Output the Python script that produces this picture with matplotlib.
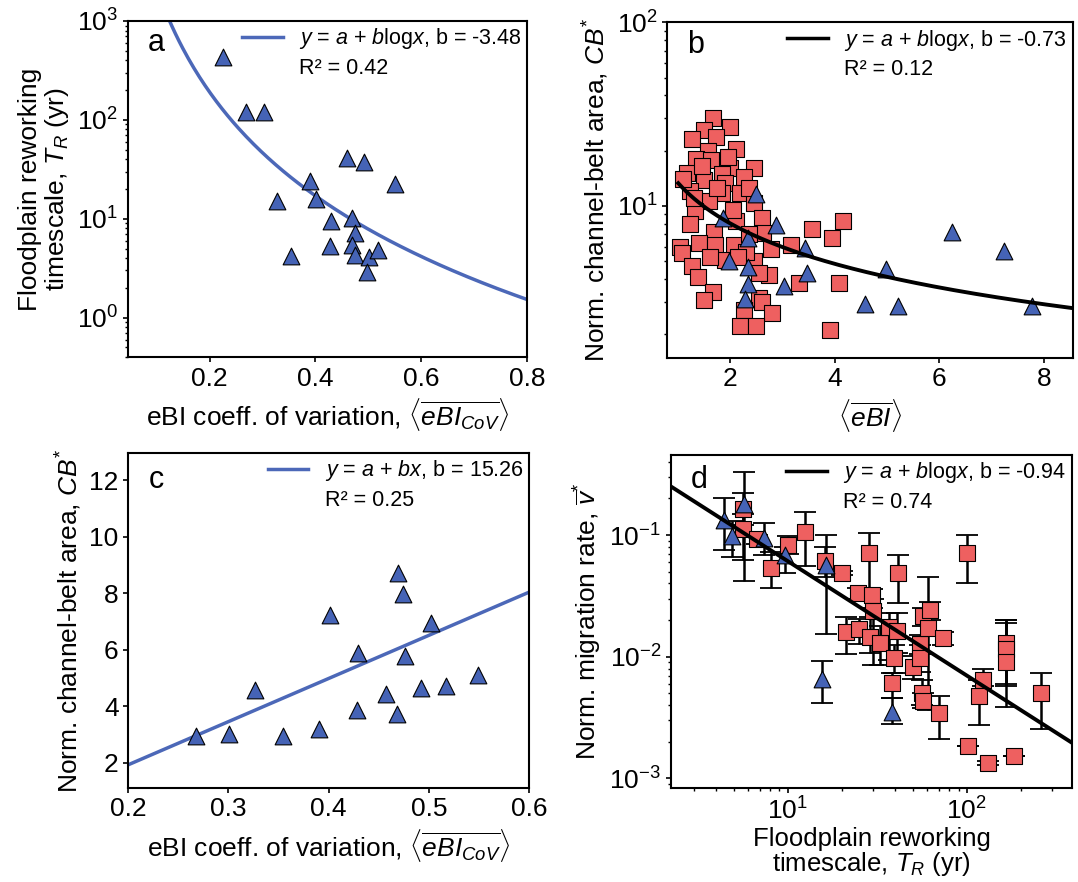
import numpy as np
import matplotlib
matplotlib.use('Agg')
import matplotlib.pyplot as plt
from matplotlib.lines import Line2D

plt.rcParams['font.family'] = ['Liberation Sans', 'DejaVu Sans']
plt.rcParams['mathtext.fontset'] = 'custom'
plt.rcParams['mathtext.rm'] = 'Liberation Sans'
plt.rcParams['mathtext.it'] = 'Liberation Sans:italic'
plt.rcParams['mathtext.bf'] = 'Liberation Sans:bold'
plt.rcParams['axes.linewidth'] = 1.5

BLUE = '#4563B6'
LINE_BLUE = '#4C68B8'
RED = '#EE6060'

# ---- panel a: eBI CoV vs reworking timescale (triangles)
a_x = [0.225, 0.269, 0.302, 0.459, 0.492, 0.550, 0.390, 0.327, 0.402, 0.429,
       0.469, 0.475, 0.428, 0.469, 0.475, 0.354, 0.501, 0.518, 0.497]
a_y = [436, 121, 119, 41, 37.4, 22.4, 24.2, 15.2, 15.8, 9.4,
       10.2, 7.2, 5.3, 5.4, 4.3, 4.2, 4.1, 4.8, 2.9]
a_fit = (0.704, -3.48)   # y = A * x**b
a_r2 = 0.42

# ---- panel b: mean eBI vs channel-belt area
b_sq_x = [1.67, 1.99, 1.49, 1.26, 1.73, 2.10, 1.57, 1.34, 1.62, 2.00, 2.46, 1.17,
          1.84, 2.25, 1.50, 1.90, 1.23, 1.84, 2.18, 2.45, 1.58, 1.33, 2.10, 2.61,
          1.23, 1.69, 2.62, 1.39, 1.71, 1.04, 2.07, 3.15, 3.56, 2.77, 1.07, 1.90,
          2.45, 1.26, 2.73, 1.38, 3.31, 1.67, 1.50, 2.54, 2.61, 2.80, 2.25, 2.19,
          2.48, 3.94, 4.15, 4.07, 3.90, 1.10, 1.45, 1.95, 2.35, 1.30, 1.75, 2.05,
          2.35, 1.60, 2.30, 2.55, 2.15]
b_sq_y = [30.3, 27.0, 25.9, 23.2, 23.8, 20.4, 20.0, 17.9, 17.7, 16.1, 16.1, 15.2,
          15.0, 14.4, 13.8, 13.3, 12.0, 11.8, 11.8, 10.4, 10.6, 9.4, 8.3, 8.6,
          8.0, 7.2, 7.1, 6.3, 6.1, 6.0, 6.1, 6.1, 7.5, 5.8, 5.55, 5.1,
          5.0, 4.7, 4.2, 4.1, 3.8, 3.4, 3.08, 3.14, 3.0, 2.62, 2.72, 2.22,
          2.22, 6.67, 8.3, 3.79, 2.11, 14.0, 16.5, 18.5, 12.5, 11.0, 12.5, 9.5,
          7.0, 5.3, 5.6, 4.3, 5.3]
b_tri_x = [2.49, 1.85, 2.87, 2.34, 1.98, 2.33, 2.33, 2.28, 3.02, 3.42, 3.46,
           4.57, 4.97, 5.20, 6.25, 7.23, 7.78]
b_tri_y = [11.6, 8.57, 7.88, 6.73, 5.01, 4.64, 3.74, 3.12, 3.66, 5.89, 4.33,
           2.93, 4.52, 2.86, 7.19, 5.71, 2.86]
b_fit = (13.3, -0.73)
b_r2 = 0.12

# ---- panel c: eBI CoV vs channel-belt area (triangles)
c_x = [0.268, 0.301, 0.326, 0.354, 0.390, 0.401, 0.428, 0.429, 0.457, 0.469,
       0.468, 0.474, 0.476, 0.492, 0.502, 0.517, 0.549]
c_y = [2.94, 3.01, 4.57, 2.94, 3.20, 7.22, 3.86, 5.89, 4.43, 8.70,
       3.72, 7.99, 5.77, 4.63, 6.93, 4.71, 5.10]
c_fit = (-1.12, 15.26)   # y = a + b*x
c_r2 = 0.25

# ---- panel d: reworking timescale vs migration rate, with error bars
d_sq_x = [5.6, 5.6, 6.7, 8.1, 10.0, 12.5, 16.2, 20.2, 21.2, 25.0, 28.6, 41.5,
          100, 24.8, 29.4, 30.1, 28.8, 32.8, 37.0, 40.6, 39.3, 38.1, 49.9, 54.8,
          54.8, 57.3, 62.4, 61.0, 56.1, 57.3, 70.3, 73.5, 102, 132, 184, 123,
          117.6, 165, 165, 165, 261]
d_sq_y = [0.163, 0.112, 0.092, 0.054, 0.083, 0.105, 0.061, 0.049, 0.016, 0.017,
          0.0705, 0.0484, 0.0707, 0.0336, 0.0321, 0.0239, 0.0146, 0.0129, 0.0174,
          0.0164, 0.0097, 0.0061, 0.0082, 0.0127, 0.0097, 0.0216, 0.0242, 0.0171,
          0.0050, 0.0043, 0.00343, 0.0142, 0.00185, 0.00135, 0.00153, 0.00644,
          0.00475, 0.0129, 0.0115, 0.0091, 0.0050]
d_sq_lo = [0.12, 0.062, 0.085, 0.0365, 0.07, 0.056, 0.045, 0.047, 0.0105, 0.0128,
           0.0353, 0.0275, 0.0405, 0.030, 0.025, 0.0086, 0.0107, 0.0086, 0.0094,
           0.0107, 0.0073, 0.00455, 0.0066, 0.0105, 0.0075, 0.018, 0.020, 0.00365,
           0.0040, 0.0038, 0.0021, 0.0125, 0.00185, 0.0013, 0.00153, 0.0058,
           0.00275, 0.0058, 0.006, 0.00384, 0.00253]
d_sq_hi = [0.22, 0.15, 0.10, 0.072, 0.098, 0.154, 0.08, 0.051, 0.0213, 0.0204,
           0.103, 0.0685, 0.10, 0.037, 0.036, 0.030, 0.0213, 0.018, 0.0228,
           0.0228, 0.0125, 0.0073, 0.0101, 0.015, 0.0125, 0.025, 0.028, 0.0454,
           0.0064, 0.0050, 0.0048, 0.016, 0.00185, 0.0014, 0.00153, 0.0080,
           0.0065, 0.0202, 0.019, 0.020, 0.0074]
d_tri_x = [4.42, 4.88, 5.70, 7.4, 9.7, 16.4, 15.6, 38.1]
d_tri_y = [0.134, 0.099, 0.179, 0.095, 0.069, 0.057, 0.00656, 0.00353]
d_tri_lo = [0.076, 0.066, 0.042, 0.069, 0.049, 0.0153, 0.0042, 0.00278]
d_tri_hi = [0.203, 0.13, 0.327, 0.126, 0.08, 0.1, 0.0092, 0.00455]
d_fit = (0.532, -0.94)
d_r2 = 0.74

MS = 145
TICK_FS = 19
LAB_FS = 19
cov_label = r'eBI coeff. of variation, $\langle\overline{eBI_{CoV}}\rangle$'
cb_label = r'Norm. channel-belt area, $CB^{*}$'
tr_label = 'Floodplain reworking\ntimescale, $T_R$ (yr)'


def fit_legend(ax, color, eq, r2):
    h1 = Line2D([], [], color=color, lw=2.5)
    h2 = Line2D([], [], color='none')
    ax.legend([h1, h2], [eq, 'R\u00b2 = {:.2f}'.format(r2)], loc='upper right',
              frameon=False, fontsize=15.5, handlelength=1.9, handletextpad=0.75,
              labelspacing=0.3, borderaxespad=0.05, borderpad=0.2)


def style(ax, letter, ly):
    ax.tick_params(labelsize=TICK_FS, width=1.2)
    ax.tick_params(which='minor', width=1.0)
    ax.text(0.05, ly, letter, transform=ax.transAxes, fontsize=22,
            ha='left', va='baseline')


fig = plt.figure(figsize=(10.78, 8.82), dpi=100)

# a
ax = fig.add_axes([0.1185, 0.5952, 0.3702, 0.381])
xx = np.linspace(0.1, 0.8, 200)
ax.plot(xx, a_fit[0] * xx ** a_fit[1], color=LINE_BLUE, lw=2.5, zorder=1)
ax.scatter(a_x, a_y, marker='^', s=MS, c=BLUE, edgecolors='black', linewidths=0.8, zorder=3)
ax.set_yscale('log')
ax.set_xlim(0.045, 0.8)
ax.set_ylim(0.4, 1000)
ax.set_xticks([0.2, 0.4, 0.6, 0.8])
ax.set_xlabel(cov_label, fontsize=LAB_FS)
ax.set_ylabel(tr_label, fontsize=LAB_FS, linespacing=1.05)
fit_legend(ax, LINE_BLUE, r'$y$ = $a$ + $b$log$x$, b = {:.2f}'.format(a_fit[1]), a_r2)
style(ax, 'a', 0.912)

# b
ax = fig.add_axes([0.619, 0.5944, 0.3759, 0.3803])
xx = np.linspace(1.0, 8.55, 200)
ax.plot(xx, b_fit[0] * xx ** b_fit[1], color='black', lw=2.8, zorder=4)
ax.scatter(b_sq_x, b_sq_y, marker='s', s=MS, c=RED, edgecolors='black', linewidths=0.8, zorder=2)
ax.scatter(b_tri_x, b_tri_y, marker='^', s=MS, c=BLUE, edgecolors='black', linewidths=0.8, zorder=3)
ax.set_yscale('log')
ax.set_xlim(0.79, 8.55)
ax.set_ylim(1.49, 100)
ax.set_xticks([2, 4, 6, 8])
ax.set_xlabel(r'$\langle\overline{eBI}\rangle$', fontsize=LAB_FS)
ax.set_ylabel(cb_label, fontsize=LAB_FS)
fit_legend(ax, 'black', r'$y$ = $a$ + $b$log$x$, b = {:.2f}'.format(b_fit[1]), b_r2)
style(ax, 'b', 0.908)

# c
ax = fig.add_axes([0.119, 0.1069, 0.3717, 0.3798])
xx = np.array([0.2, 0.6])
ax.plot(xx, c_fit[0] + c_fit[1] * xx, color=LINE_BLUE, lw=2.5, zorder=1)
ax.scatter(c_x, c_y, marker='^', s=MS, c=BLUE, edgecolors='black', linewidths=0.8, zorder=3)
ax.set_xlim(0.2, 0.6)
ax.set_ylim(1.12, 12.97)
ax.set_xticks([0.2, 0.3, 0.4, 0.5, 0.6])
ax.set_yticks([2, 4, 6, 8, 10, 12])
ax.set_xlabel(cov_label, fontsize=LAB_FS)
ax.set_ylabel(cb_label, fontsize=LAB_FS)
fit_legend(ax, LINE_BLUE, r'$y$ = $a$ + $bx$, b = {:.2f}'.format(c_fit[1]), c_r2)
style(ax, 'c', 0.894)

# d
ax = fig.add_axes([0.6224, 0.1069, 0.372, 0.3772])
xx = np.array([2.23, 387])
ax.plot(xx, d_fit[0] * xx ** d_fit[1], color='black', lw=2.8, zorder=4)
sy = np.array(d_sq_y)
ax.errorbar(d_sq_x, sy, yerr=[sy - np.array(d_sq_lo), np.array(d_sq_hi) - sy],
            fmt='none', ecolor='black', elinewidth=1.8, capsize=8, capthick=1.3, zorder=1)
ty = np.array(d_tri_y)
ax.errorbar(d_tri_x, ty, yerr=[ty - np.array(d_tri_lo), np.array(d_tri_hi) - ty],
            fmt='none', ecolor='black', elinewidth=1.8, capsize=8, capthick=1.3, zorder=1)
ax.scatter(d_sq_x, d_sq_y, marker='s', s=MS, c=RED, edgecolors='black', linewidths=0.8, zorder=2)
ax.scatter(d_tri_x, d_tri_y, marker='^', s=MS, c=BLUE, edgecolors='black', linewidths=0.8, zorder=3)
ax.set_xscale('log')
ax.set_yscale('log')
ax.set_xlim(2.23, 387)
ax.set_ylim(8.4e-4, 0.454)
ax.set_xlabel(tr_label, fontsize=LAB_FS - 0.5, linespacing=0.95, labelpad=2)
ax.set_ylabel(r'Norm. migration rate, $\overline{v}^{*}$', fontsize=LAB_FS)
fit_legend(ax, 'black', r'$y$ = $a$ + $b$log$x$, b = {:.2f}'.format(d_fit[1]), d_r2)
style(ax, 'd', 0.90)

fig.savefig('out.png', dpi=100)
